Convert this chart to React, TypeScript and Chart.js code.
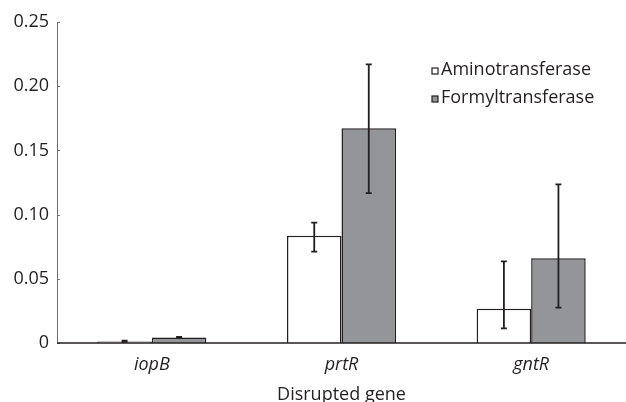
import React, { useEffect, useRef } from "react";
import { Chart, registerables } from "chart.js";

Chart.register(...registerables);

const categories = ["iopB", "prtR", "gntR"];
const seriesNames = ["Aminotransferase", "Formyltransferase"];
const aminoValues = [0.0012, 0.0836, 0.0267];
const aminoLow = [0.0008, 0.0711, 0.0114];
const aminoHigh = [0.0018, 0.0937, 0.0636];
const formylValues = [0.0042, 0.1672, 0.066];
const formylLow = [0.0038, 0.1168, 0.0275];
const formylHigh = [0.0048, 0.217, 0.1236];
const yTicks = [0, 0.05, 0.1, 0.15, 0.2, 0.25];

const INK = "#231f20";
const GRAY = "#939598";
const FONT = "'Open Sans', 'Noto Sans', sans-serif";

const errorLows = [aminoLow, formylLow];
const errorHighs = [aminoHigh, formylHigh];

const errorBarPlugin = {
  id: "errorBars",
  afterDatasetsDraw(chart: any) {
    const ctx = chart.ctx;
    const y = chart.scales.y;
    ctx.save();
    ctx.strokeStyle = INK;
    ctx.lineWidth = 1.8;
    chart.data.datasets.forEach((ds: any, di: number) => {
      const meta = chart.getDatasetMeta(di);
      meta.data.forEach((el: any, i: number) => {
        const x = el.x;
        const lo = y.getPixelForValue(errorLows[di][i]);
        const hi = y.getPixelForValue(errorHighs[di][i]);
        ctx.beginPath();
        ctx.moveTo(x, lo);
        ctx.lineTo(x, hi);
        ctx.moveTo(x - 3, lo);
        ctx.lineTo(x + 3, lo);
        ctx.moveTo(x - 3, hi);
        ctx.lineTo(x + 3, hi);
        ctx.stroke();
      });
    });
    ctx.restore();
  },
};

const axesPlugin = {
  id: "customAxes",
  afterDatasetsDraw(chart: any) {
    const ctx = chart.ctx;
    const a = chart.chartArea;
    const y = chart.scales.y;
    ctx.save();
    ctx.strokeStyle = "#6d6e71";
    ctx.lineWidth = 1;
    ctx.beginPath();
    ctx.moveTo(a.left + 0.5, a.top);
    ctx.lineTo(a.left + 0.5, a.bottom);
    yTicks.forEach((t) => {
      const py = Math.round(y.getPixelForValue(t)) + 0.5;
      ctx.moveTo(a.left, py);
      ctx.lineTo(a.left + 3, py);
    });
    ctx.stroke();
    ctx.strokeStyle = INK;
    ctx.lineWidth = 1.5;
    ctx.beginPath();
    ctx.moveTo(a.left, a.bottom);
    ctx.lineTo(chart.width, a.bottom);
    ctx.stroke();
    ctx.restore();
  },
};

const legendPlugin = {
  id: "customLegend",
  afterDraw(chart: any) {
    const ctx = chart.ctx;
    const fills = ["#ffffff", GRAY];
    const x0 = 432;
    const ys = [70, 98];
    ctx.save();
    ctx.font = `18px ${FONT}`;
    ctx.textBaseline = "middle";
    seriesNames.forEach((name, i) => {
      ctx.fillStyle = fills[i];
      ctx.fillRect(x0, ys[i] - 2, 6, 6);
      ctx.strokeStyle = INK;
      ctx.lineWidth = 1.2;
      ctx.strokeRect(x0, ys[i] - 2, 6, 6);
      ctx.fillStyle = INK;
      ctx.fillText(name, x0 + 9, ys[i]);
    });
    ctx.restore();
  },
};

export default function App() {
  const ref = useRef<HTMLCanvasElement | null>(null);
  useEffect(() => {
    if (!ref.current) return;
    const chart = new Chart(ref.current, {
      type: "bar",
      data: {
        labels: categories,
        datasets: [
          {
            label: seriesNames[0],
            data: aminoValues,
            backgroundColor: "#ffffff",
            borderColor: INK,
            borderWidth: 1.5,
            barPercentage: 1,
            categoryPercentage: 0.575,
          },
          {
            label: seriesNames[1],
            data: formylValues,
            backgroundColor: GRAY,
            borderColor: INK,
            borderWidth: 1.5,
            barPercentage: 1,
            categoryPercentage: 0.575,
          },
        ],
      },
      options: {
        animation: false,
        responsive: true,
        maintainAspectRatio: false,
        layout: { padding: { top: 22, right: 0, left: 0, bottom: 0 } },
        plugins: {
          legend: { display: false },
          tooltip: { enabled: false },
        },
        scales: {
          x: {
            grid: { display: false, drawTicks: false },
            border: { display: false },
            ticks: {
              color: INK,
              font: { family: FONT, size: 18, style: "italic" },
              padding: 11,
            },
            title: {
              display: true,
              text: "Disrupted gene",
              color: INK,
              font: { family: FONT, size: 18 },
              padding: { top: 0, bottom: -4 },
            },
            afterFit: (s: any) => {
              s.height = 59;
            },
          },
          y: {
            min: 0,
            max: 0.25,
            afterBuildTicks: (s: any) => {
              s.ticks = yTicks.map((v) => ({ value: v }));
            },
            grid: { display: false, drawTicks: false },
            border: { display: false },
            ticks: {
              color: INK,
              font: { family: FONT, size: 18 },
              padding: 8,
              callback: (v: any) => (Number(v) === 0 ? "0" : Number(v).toFixed(2)),
            },
            afterFit: (s: any) => {
              s.width = 57;
            },
          },
        },
      },
      plugins: [axesPlugin, errorBarPlugin, legendPlugin],
    });
    return () => chart.destroy();
  }, []);
  return (
    <div style={{ position: "absolute", left: 0, top: 0, width: 626, height: 402, background: "#fff" }}>
      <canvas ref={ref} />
    </div>
  );
}
